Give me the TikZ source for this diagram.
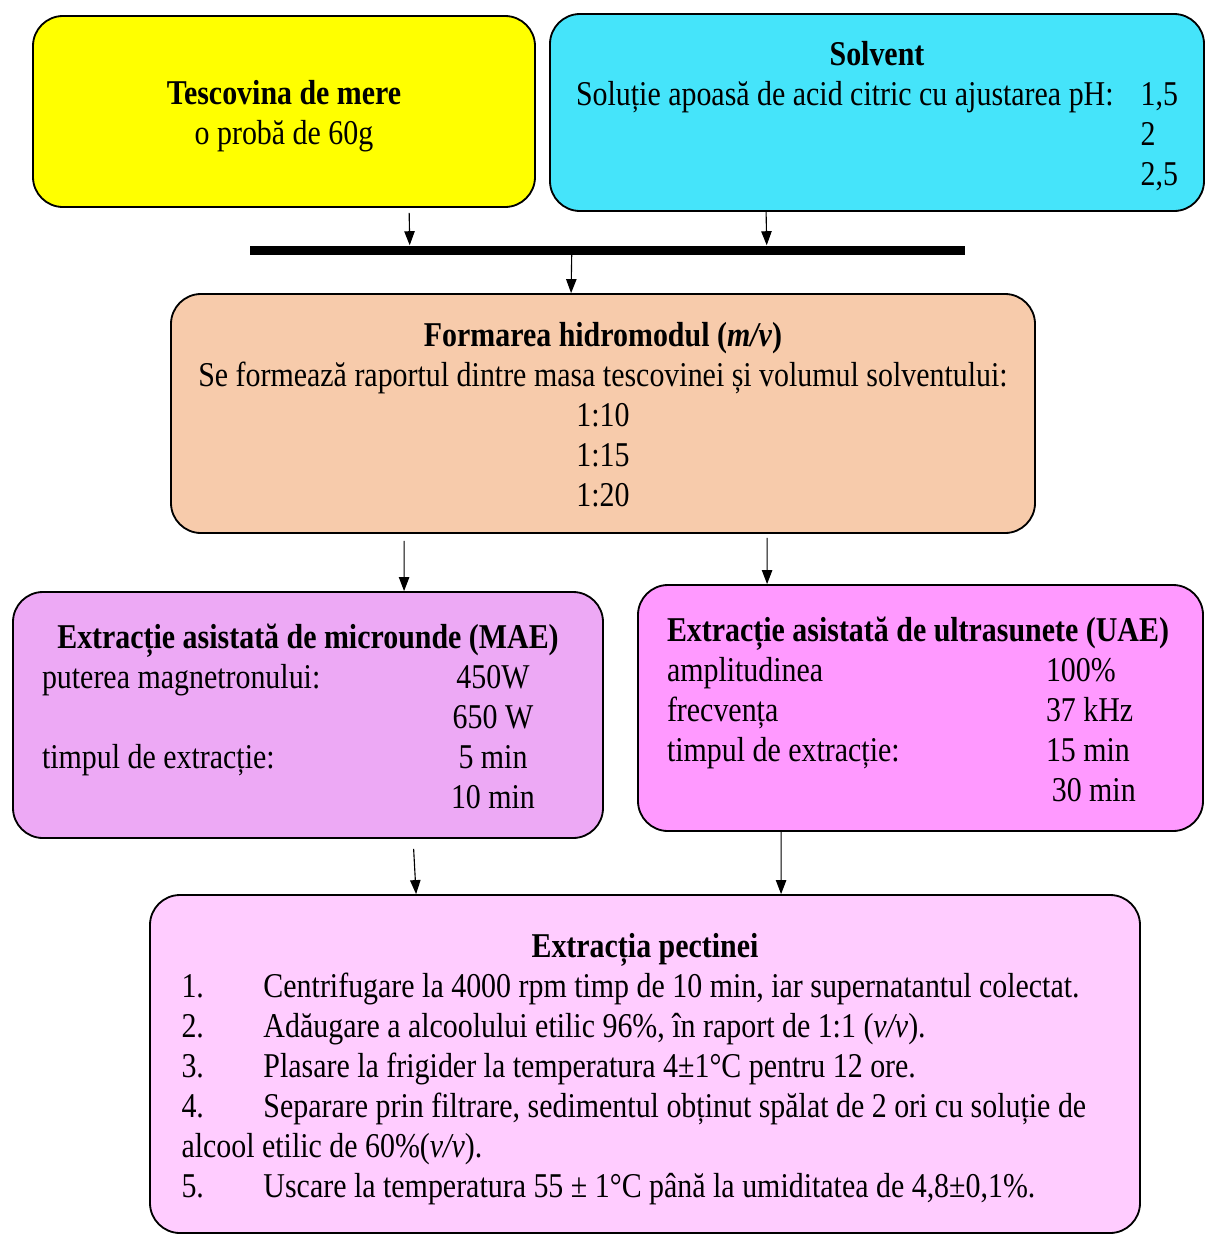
\documentclass[tikz,border=0pt]{standalone}
\usepackage{fontspec}
\setmainfont{Liberation Serif}[FakeStretch=0.86]
\usepackage{array}
\usetikzlibrary{arrows.meta,positioning}
\definecolor{AppleYellow}{HTML}{FFFF00}
\definecolor{SolventCyan}{HTML}{45E4FA}
\definecolor{RatioPeach}{HTML}{F7CBAB}
\definecolor{MaeViolet}{HTML}{EDA9F5}
\definecolor{UaePink}{HTML}{FF99FF}
\definecolor{PectinPink}{HTML}{FFCCFF}
\newcommand{\topstrut}{\rule{0pt}{0.95cm}}
\newcommand{\botstrut}{\rule[-0.3cm]{0pt}{0pt}}

\begin{document}
\begin{tikzpicture}[
    box/.style={draw=black, line width=1.3pt, rounded corners=0.75cm, align=center, inner sep=0pt, font=\fontsize{24.75pt}{28.45pt}\selectfont},
    arr/.style={-{Triangle[length=3.5mm,width=2.6mm]}, line width=0.8pt},
    bar/.style={fill=black, inner sep=0pt}
  ]
    \useasboundingbox (0,0) rectangle (30.125,-30.875);

    % Raw material and solvent
    \node[box, fill=AppleYellow, minimum width=12.55cm, minimum height=4.775cm] (tesc) at (7.1,-2.7875) {\topstrut\textbf{Tescovina de mere}\\o probă de 60g\botstrut};
    \node[box, fill=SolventCyan, minimum width=16.35cm, minimum height=4.925cm] (solv) at (21.925,-2.8125) {\topstrut\textbf{Solvent}\\\begin{tabular}[t]{@{}l@{\hspace{0.675cm}}l@{}}Soluție apoasă de acid citric cu ajustarea pH: & 1,5\\ & 2\\ & 2,5\end{tabular}};

    % Mixing bar
    \node[bar, minimum width=17.875cm, minimum height=0.225cm] (mix) at (15.1875,-6.25) {};

    % Hydromodule
    \node[box, fill=RatioPeach, minimum width=21.6cm, minimum height=5.975cm] (hidro) at (15.075,-10.3375) {\topstrut\textbf{Formarea hidromodul (\textit{m/v})}\\Se formează raportul dintre masa tescovinei și volumul solventului:\\1:10\\1:15\\1:20\botstrut};

    % Extraction methods
    \node[box, fill=MaeViolet, minimum width=14.75cm, minimum height=6.15cm] (mae) at (7.7,-17.875) {\begin{tabular}{@{}p{10.025cm}@{}>{\centering\arraybackslash}p{2.5cm}@{}p{0.775cm}@{}}
      \multicolumn{3}{@{}c@{}}{\topstrut\textbf{Extracție asistată de microunde (MAE)}}\\
      puterea magnetronului: & 450W & \\
       & 650 W & \\
      timpul de extracție: & 5 min & \\
       & 10 min &
    \end{tabular}};
    \node[box, fill=UaePink, minimum width=14.125cm, minimum height=6.15cm] (uae) at (23.0125,-17.7) {\begin{tabular}{@{}p{9.475cm}@{}p{3.2cm}@{}}
      \multicolumn{2}{@{}l@{}}{\topstrut\textbf{Extracție asistată de ultrasunete (UAE)}}\\
      amplitudinea & 100\%\\
      frecvența & 37 kHz\\
      timpul de extracție: & 15 min\\
       & \,30 min
    \end{tabular}};

    % Pectin extraction
    \node[box, fill=PectinPink, minimum width=24.75cm, minimum height=8.45cm] (pect) at (16.125,-26.6) {\begin{tabular}{@{}p{2.05cm}@{}p{21.125cm}@{}}
      \multicolumn{2}{@{}c@{}}{\topstrut\textbf{Extracția pectinei}}\\
      1. & Centrifugare la 4000 rpm timp de 10 min, iar supernatantul colectat.\\
      2. & Adăugare a alcoolului etilic 96\%, în raport de 1:1 (\textit{v/v}).\\
      3. & Plasare la frigider la temperatura 4±1°C pentru 12 ore.\\
      4. & Separare prin filtrare, sedimentul obținut spălat de 2 ori cu soluție de\\
      \multicolumn{2}{@{}l@{}}{alcool etilic de 60\%(\textit{v/v}).}\\
      5. & Uscare la temperatura 55 ± 1°C până la umiditatea de 4,8±0,1\%.
    \end{tabular}};

    \draw[arr, shorten <=0.125cm] ([xshift=9.425cm]tesc.south west) -- ([xshift=4cm]mix.north west);
    \draw[arr] ([xshift=5.425cm]solv.south west) -- ([xshift=12.925cm]mix.north west);
    \draw[arr] ([xshift=8.05cm]mix.south west) -- ([xshift=10.025cm]hidro.north west);
    \draw[arr, shorten <=0.175cm] ([xshift=5.85cm]hidro.south west) -- ([xshift=9.8cm]mae.north west);
    \draw[arr, shorten <=0.1cm] ([xshift=14.925cm]hidro.south west) -- ([xshift=3.25cm]uae.north west);
    \draw[arr, shorten <=0.25cm] ([xshift=10.025cm]mae.south west) -- ([xshift=6.675cm]pect.north west);
    \draw[arr] ([xshift=3.6cm]uae.south west) -- ([xshift=15.8cm]pect.north west);
  \end{tikzpicture}
\end{document}
